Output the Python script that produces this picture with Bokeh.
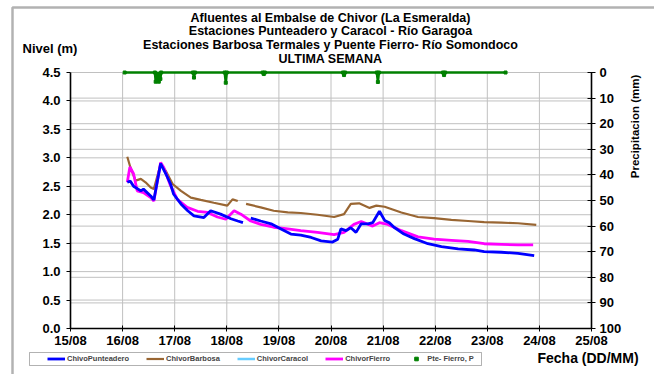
import math
from bokeh.plotting import figure
from bokeh.models import (Range1d, LinearAxis, FixedTicker, Legend, LegendItem,
                          Label, BoxAnnotation)
from bokeh.embed import file_html
from bokeh.resources import INLINE

nan = float("nan")

# ---------------- data ----------------
day_ticks = [15, 16, 17, 18, 19, 20, 21, 22, 23, 24, 25]
day_labels = ["15/08", "16/08", "17/08", "18/08", "19/08", "20/08",
              "21/08", "22/08", "23/08", "24/08", "25/08"]
level_ticks = [0.0, 0.5, 1.0, 1.5, 2.0, 2.5, 3.0, 3.5, 4.0, 4.5]
precip_ticks = [0, 10, 20, 30, 40, 50, 60, 70, 80, 90, 100]

punteadero_day = [16.09, 16.15, 16.21, 16.35, 16.40, 16.54, 16.60, 16.73, 16.83, 16.92,
                  16.98, 17.12, 17.25, 17.37, 17.56, 17.69, 17.88, 18.08, 18.21, 18.31,
                  nan, 18.46, 18.65, 18.85, 19.04, 19.23, 19.42, 19.62, 19.81, 20.03,
                  20.13, 20.19, 20.29, 20.38, 20.48, 20.58, 20.71, 20.80, 20.93, 21.03,
                  21.12, 21.21, 21.40, 21.60, 21.86, 22.12, 22.44, 22.75, 22.94, 23.27,
                  23.59, 23.90]
punteadero_m = [2.57, 2.59, 2.50, 2.42, 2.45, 2.33, 2.26, 2.90, 2.72, 2.54,
                2.36, 2.19, 2.07, 1.98, 1.95, 2.07, 2.01, 1.93, 1.89, 1.86,
                nan, 1.94, 1.89, 1.84, 1.75, 1.66, 1.64, 1.60, 1.54, 1.52,
                1.57, 1.75, 1.72, 1.77, 1.69, 1.84, 1.84, 1.86, 2.06, 1.90,
                1.86, 1.78, 1.66, 1.58, 1.49, 1.44, 1.40, 1.38, 1.35, 1.34,
                1.32, 1.28]

barbosa_day = [16.09, 16.15, 16.25, 16.35, 16.44, 16.54, 16.60, 16.73, 16.83, 16.96,
               17.12, 17.31, 17.50, 17.75, 18.01, 18.11, 18.21, nan, 18.37, 18.65,
               18.90, 19.17, 19.42, 19.74, 20.06, 20.25, 20.38, 20.54, 20.74, 20.87,
               21.03, 21.35, 21.67, 21.98, 22.31, 22.63, 22.94, 23.27, 23.59, 23.94]
barbosa_m = [3.02, 2.83, 2.60, 2.63, 2.57, 2.48, 2.45, 2.89, 2.77, 2.54,
             2.42, 2.30, 2.26, 2.21, 2.16, 2.27, 2.24, nan, 2.19, 2.13,
             2.07, 2.04, 2.03, 2.00, 1.96, 2.01, 2.19, 2.20, 2.12, 2.16,
             2.14, 2.04, 1.96, 1.94, 1.91, 1.89, 1.87, 1.86, 1.85, 1.82]

# ChivorCaracol has no readings in the week shown
caracol_day = [nan]
caracol_m = [nan]

fierro_day = [16.09, 16.14, 16.21, 16.28, 16.40, 16.54, 16.60, 16.73, 16.79, 16.92,
              17.05, 17.24, 17.44, 17.63, 17.82, 17.98, 18.14, 18.27, 18.46, 18.65,
              18.90, 19.17, 19.42, 19.74, 20.06, 20.25, 20.44, 20.58, 20.80, 20.93,
              21.09, 21.35, 21.67, 21.98, 22.31, 22.63, 22.94, 23.27, 23.59, 23.88]
fierro_m = [2.57, 2.84, 2.72, 2.42, 2.39, 2.30, 2.24, 2.92, 2.83, 2.51,
            2.27, 2.13, 2.06, 2.04, 1.96, 1.92, 2.07, 2.01, 1.89, 1.83,
            1.78, 1.75, 1.72, 1.69, 1.65, 1.69, 1.83, 1.88, 1.80, 1.86,
            1.83, 1.72, 1.61, 1.57, 1.55, 1.53, 1.49, 1.48, 1.47, 1.47]

precip_day = [16.04, 16.62, 16.635, 16.65, 16.665, 16.68, 16.695, 16.71, 16.725, 16.74,
              17.35, 17.37, 17.39, 17.96, 17.98, 18.00, 18.69, 18.71, 18.73,
              20.23, 20.25, 20.27, 20.88, 20.90, 20.92, 22.15, 22.17, 22.19, 23.35]
precip_mm = [0, 0, 3.6, 0.5, 3.2, 0.5, 3.6, 0.5, 2.5, 0,
             0, 2.0, 0, 0, 4.0, 0, 0, 0.6, 0,
             0, 1.0, 0, 0, 3.7, 0, 0, 1.0, 0, 0]

# ---------------- layout (pixels) ----------------
W, H = 654, 374
FL, FR, FT, FB = 70, 591, 72, 328          # plot-area edges in canvas pixels
x_lo, x_hi = day_ticks[0], day_ticks[-1]
y_lo, y_hi = level_ticks[0], level_ticks[-1]
p_lo, p_hi = precip_ticks[0], precip_ticks[-1]
xs = (FR - FL) / (x_hi - x_lo)
ys = (FB - FT) / (y_hi - y_lo)
ps = (FB - FT) / (p_hi - p_lo)

FONT = "Liberation Sans"
BLACK = "#000000"
GRID = "#c0c0c0"

p = figure(width=W, height=H, output_backend="svg", toolbar_location=None,
           x_range=Range1d(x_lo - FL / xs, x_hi + (W - FR) / xs),
           y_range=Range1d(y_lo - (H - FB) / ys, y_hi + FT / ys),
           min_border=0, min_border_left=0, min_border_right=0,
           min_border_top=0, min_border_bottom=0)
p.outline_line_color = None
p.background_fill_color = "white"
p.border_fill_color = "white"
p.extra_y_ranges = {"precip": Range1d(start=p_hi + (H - FB) / ps, end=p_lo - FT / ps)}
p.xgrid.visible = False
p.ygrid.visible = False


def style_axis(ax, size="13px"):
    ax.axis_line_color = BLACK
    ax.axis_line_width = 1.6
    ax.major_tick_line_color = BLACK
    ax.major_tick_line_width = 1
    ax.minor_tick_line_color = None
    ax.major_label_text_font = FONT
    ax.major_label_text_font_style = "bold"
    ax.major_label_text_font_size = size
    ax.major_label_text_color = BLACK


xa = p.xaxis[0]
xa.ticker = FixedTicker(ticks=day_ticks)
xa.major_label_overrides = {t: l for t, l in zip(day_ticks, day_labels)}
xa.fixed_location = y_lo
xa.bounds = (x_lo, x_hi)
xa.major_tick_in = 3
xa.major_tick_out = 3
xa.major_label_standoff = 1
style_axis(xa)

ya = p.yaxis[0]
ya.ticker = FixedTicker(ticks=level_ticks)
ya.major_label_overrides = {t: f"{t:.1f}" for t in level_ticks}
ya.fixed_location = x_lo
ya.bounds = (y_lo, y_hi)
ya.major_tick_in = 0
ya.major_tick_out = 4
ya.major_label_standoff = 6
style_axis(ya)

ra = LinearAxis(y_range_name="precip", ticker=FixedTicker(ticks=precip_ticks))
ra.fixed_location = x_hi
ra.bounds = (p_lo, p_hi)
ra.major_tick_in = 4
ra.major_tick_out = 4
ra.major_label_standoff = 4
style_axis(ra)
p.add_layout(ra, "right")

# ---------------- grid lines (from the tick lists) ----------------
inner_days = day_ticks[1:-1]
p.segment(x0=inner_days, y0=[y_lo] * len(inner_days), x1=inner_days, y1=[y_hi] * len(inner_days),
          line_color=GRID, line_width=1, level="underlay")
lv = level_ticks[1:]
p.segment(x0=[x_lo] * len(lv), y0=lv, x1=[x_hi] * len(lv), y1=lv,
          line_color=GRID, line_width=1, level="underlay")
pv = precip_ticks[1:-1]
p.segment(x0=[x_lo] * len(pv), y0=pv, x1=[x_hi] * len(pv), y1=pv, y_range_name="precip",
          line_color=GRID, line_width=1, level="underlay")

# ---------------- series ----------------
r_green_line = p.line(precip_day, precip_mm, y_range_name="precip", line_color="#008000",
                      line_width=2.5)
r_green = p.scatter(precip_day, precip_mm, y_range_name="precip", marker="square",
                    size=3, fill_color="#008000", line_color="#008000")
r_cara = p.line(caracol_day, caracol_m, line_color="#66ccff", line_width=2.5)
r_barb = p.line(barbosa_day, barbosa_m, line_color="#996633", line_width=2.2)
r_fier = p.line(fierro_day, fierro_m, line_color="#ff00ff", line_width=2.8)
r_punt = p.line(punteadero_day, punteadero_m, line_color="#0000ff", line_width=2.8)

# ---------------- legend ----------------
legend = Legend(items=[
    LegendItem(label="ChivoPunteadero", renderers=[r_punt]),
    LegendItem(label="ChivorBarbosa", renderers=[r_barb]),
    LegendItem(label="ChivorCaracol", renderers=[r_cara]),
    LegendItem(label="ChivorFierro", renderers=[r_fier]),
    LegendItem(label="Pte- Fierro, P", renderers=[r_green]),
], orientation="horizontal", location=(47, 11))
legend.label_text_font = FONT
legend.label_text_font_style = "bold"
legend.label_text_font_size = "7.5px"
legend.glyph_width = 18
legend.glyph_height = 9
legend.label_standoff = 2
legend.label_height = 9
legend.spacing = 17
legend.padding = 0
legend.margin = 0
legend.border_line_color = None
legend.background_fill_alpha = 0
p.add_layout(legend, "center")

legend_box = BoxAnnotation(left=29, right=481, top=H - 352, bottom=H - 365,
                           left_units="screen", right_units="screen",
                           top_units="screen", bottom_units="screen",
                           fill_alpha=0, line_color=BLACK, line_width=1)
p.add_layout(legend_box)

outer = BoxAnnotation(left=12, right=W + 40, top=H - 7, bottom=-40,
                      left_units="screen", right_units="screen",
                      top_units="screen", bottom_units="screen",
                      fill_alpha=0, line_color=BLACK, line_width=2.5)
p.add_layout(outer)

# ---------------- texts ----------------
titles = ["Afluentes al Embalse de Chivor (La Esmeralda)",
          "Estaciones Punteadero y Caracol - Río Garagoa",
          "Estaciones Barbosa Termales y Puente Fierro- Río Somondoco",
          "ULTIMA SEMANA"]
for i, t in enumerate(titles):
    p.add_layout(Label(x=330, y=H - 17 - i * 13.7, x_units="screen", y_units="screen", text=t,
                       text_align="center", text_baseline="middle", text_font=FONT,
                       text_font_style="bold", text_font_size="12.5px", text_color=BLACK))

p.add_layout(Label(x=22, y=H - 48, x_units="screen", y_units="screen", text="Nivel (m)",
                   text_align="left", text_baseline="middle", text_font=FONT,
                   text_font_style="bold", text_font_size="13px", text_color=BLACK))
p.add_layout(Label(x=634, y=H - 126, x_units="screen", y_units="screen",
                   text="Precipitacion (mm)", angle=math.pi / 2, text_align="center",
                   text_baseline="middle", text_font=FONT, text_font_style="bold",
                   text_font_size="11.5px", text_color=BLACK))
p.add_layout(Label(x=537, y=H - 357, x_units="screen", y_units="screen", text="Fecha (DD/MM)",
                   text_align="left", text_baseline="middle", text_font=FONT,
                   text_font_style="bold", text_font_size="14px", text_color=BLACK))

open("out.html", "w").write(file_html(p, INLINE))
